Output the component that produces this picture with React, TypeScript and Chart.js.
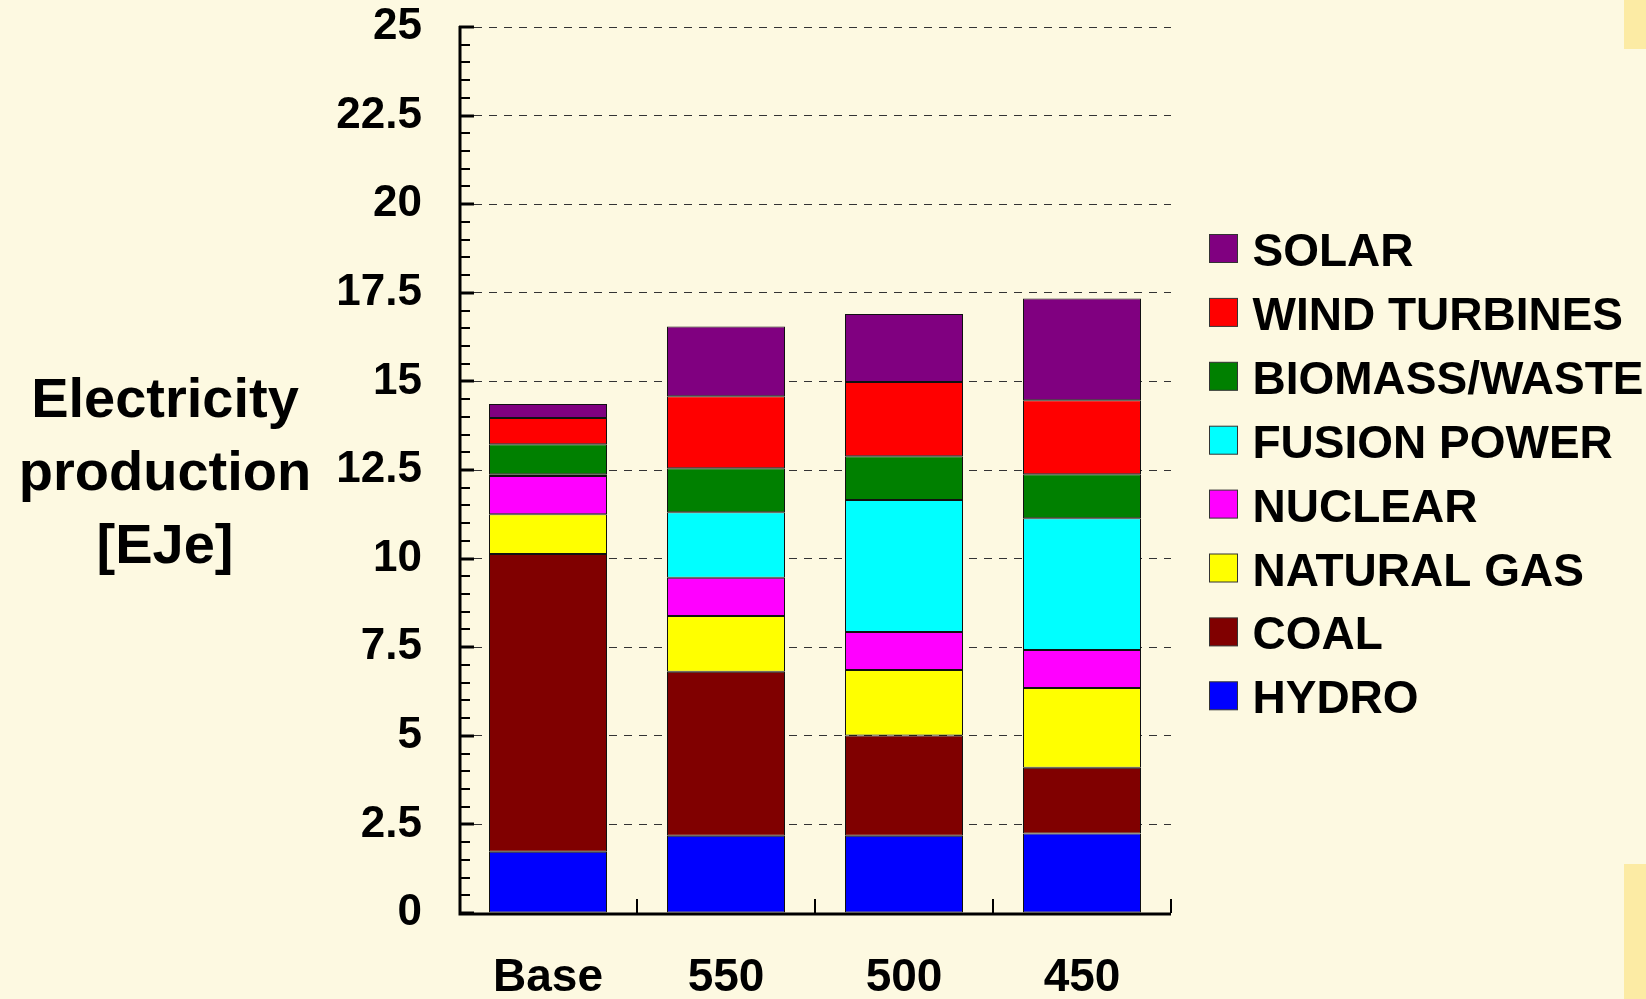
import React, { useEffect, useRef } from 'react';
import { Chart, registerables } from 'chart.js';

Chart.register(...registerables);

// ---- data ----
const categories = ['Base', '550', '500', '450'];
const hydro = [1.73, 2.18, 2.18, 2.24];
const coal = [8.4, 4.63, 2.83, 1.86];
const naturalGas = [1.12, 1.57, 1.85, 2.25];
const nuclear = [1.08, 1.08, 1.07, 1.07];
const fusionPower = [0.05, 1.85, 3.72, 3.72];
const biomassWaste = [0.85, 1.24, 1.24, 1.24];
const windTurbines = [0.74, 2.03, 2.09, 2.09];
const solar = [0.39, 1.97, 1.92, 2.87];

const seriesLabels = ['HYDRO', 'COAL', 'NATURAL GAS', 'NUCLEAR', 'FUSION POWER', 'BIOMASS/WASTE', 'WIND TURBINES', 'SOLAR'];
const seriesValues = [hydro, coal, naturalGas, nuclear, fusionPower, biomassWaste, windTurbines, solar];
const seriesColors = ['#0000FF', '#800000', '#FFFF00', '#FF00FF', '#00FFFF', '#008000', '#FF0000', '#800080'];

const yTitleLines = ['Electricity', 'production', '[EJe]'];
const yMin = 0;
const yMax = 25;
const yStep = 2.5;
const yMinorStep = 0.5;

// ---- layout / style ----
const W = 1646;
const H = 999;
const AREA = { left: 459, right: 1171, top: 27, bottom: 913 };
const FONT = '"Liberation Sans", Arial, Helvetica, sans-serif';
const BG = '#FDF9E1';

const decorPlugin = {
  id: 'decor',
  afterDatasetsDraw(chart: any) {
    const ctx = chart.ctx;
    const x = chart.scales.x;
    const y = chart.scales.y;
    const ca = chart.chartArea;
    ctx.save();
    ctx.strokeStyle = '#000';
    // minor / major ticks on y axis (pointing inward)
    for (let v = yMin; v <= yMax + 1e-9; v += yMinorStep) {
      const py = Math.round(y.getPixelForValue(v));
      const major = Math.abs(v / yStep - Math.round(v / yStep)) < 1e-6;
      ctx.lineWidth = major ? 3 : 2;
      ctx.beginPath();
      ctx.moveTo(ca.left, py);
      ctx.lineTo(ca.left + (major ? 15 : 11), py);
      ctx.stroke();
    }
    // x category boundary ticks (pointing up)
    ctx.lineWidth = 2;
    for (let i = 0; i < categories.length; i++) {
      const px = Math.round(x.getPixelForValue(i + 0.5));
      ctx.beginPath();
      ctx.moveTo(px, ca.bottom);
      ctx.lineTo(px, ca.bottom - 14);
      ctx.stroke();
    }
    // axis lines
    ctx.lineWidth = 3;
    ctx.beginPath();
    ctx.moveTo(ca.left + 1, ca.top - 1);
    ctx.lineTo(ca.left + 1, ca.bottom + 1);
    ctx.lineTo(ca.right, ca.bottom + 1);
    ctx.stroke();

    // y title (horizontal, three lines)
    ctx.fillStyle = '#000';
    ctx.font = `bold 56px ${FONT}`;
    ctx.textAlign = 'center';
    ctx.textBaseline = 'alphabetic';
    yTitleLines.forEach((t, i) => {
      ctx.fillText(t, 165, 417 + i * 73);
    });

    // legend (top = last dataset)
    const ds = chart.data.datasets;
    ctx.font = `bold 46px ${FONT}`;
    ctx.textAlign = 'left';
    for (let r = 0; r < ds.length; r++) {
      const d = ds[ds.length - 1 - r];
      const top = 234.5 + r * 63.9;
      ctx.fillStyle = d.backgroundColor;
      ctx.fillRect(1209.5, top, 28, 28);
      ctx.lineWidth = 1;
      ctx.strokeStyle = '#333';
      ctx.strokeRect(1209.5, top, 28, 28);
      ctx.fillStyle = '#000';
      ctx.fillText(d.label, 1252.5, top + 31.5);
    }
    ctx.restore();
  },
};

export default function App() {
  const canvasRef = useRef<HTMLCanvasElement | null>(null);

  useEffect(() => {
    document.body.style.margin = '0';
    const canvas = canvasRef.current;
    if (!canvas) return;
    const chart = new Chart(canvas, {
      type: 'bar',
      data: {
        labels: categories,
        datasets: seriesLabels.map((label, i) => ({
          label,
          data: seriesValues[i],
          backgroundColor: seriesColors[i],
          borderColor: '#111',
          borderWidth: 1,
          borderSkipped: false,
          categoryPercentage: 1,
          barPercentage: 0.663,
        })),
      },
      options: {
        responsive: false,
        devicePixelRatio: 1,
        animation: false,
        layout: { padding: { top: AREA.top, right: W - AREA.right, bottom: 0, left: 0 } },
        plugins: {
          legend: { display: false },
          tooltip: { enabled: false },
          title: { display: false },
        },
        scales: {
          x: {
            stacked: true,
            grid: { display: false, drawTicks: false },
            border: { display: false },
            ticks: {
              color: '#000',
              font: { family: FONT, size: 46, weight: 'bold' },
              padding: 38,
              maxRotation: 0,
              autoSkip: false,
            },
            afterFit: (s: any) => {
              s.height = H - AREA.bottom;
            },
          },
          y: {
            stacked: true,
            min: yMin,
            max: yMax,
            grid: {
              color: '#333',
              lineWidth: 1,
              drawTicks: true,
              tickLength: 37,
              tickColor: 'rgba(0,0,0,0)',
            },
            border: { display: false, dash: [8, 7] },
            ticks: {
              stepSize: yStep,
              color: '#000',
              font: { family: FONT, size: 44, weight: 'bold' },
              padding: 0,
              callback: (v: any) => String(v),
            },
            afterFit: (s: any) => {
              s.width = AREA.left;
            },
          },
        },
      },
      plugins: [decorPlugin],
    });
    return () => chart.destroy();
  }, []);

  return (
    <div style={{ position: 'relative', width: W, height: H, background: BG, overflow: 'hidden' }}>
      <canvas ref={canvasRef} width={W} height={H} style={{ display: 'block' }} />
      <div style={{ position: 'absolute', left: 1624, top: 0, width: 22, height: 49, background: '#FCEBA4' }} />
      <div style={{ position: 'absolute', left: 1624, top: 864, width: 22, height: 135, background: '#FCEBA4' }} />
    </div>
  );
}
